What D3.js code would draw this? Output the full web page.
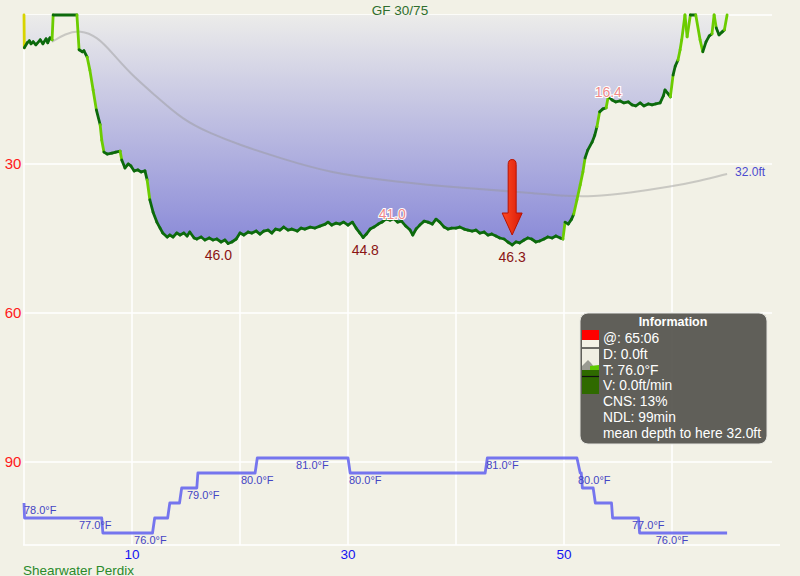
<!DOCTYPE html>
<html>
<head>
<meta charset="utf-8">
<script src="https://cdn.jsdelivr.net/npm/d3@7"></script>
<style>
  body { margin: 0; background: #f2f1e6; }
  svg { display: block; font-family: "Liberation Sans", Arial, sans-serif; }
</style>
</head>
<body>
<svg id="chart" width="800" height="576"></svg>
<script>
'use strict';

// dive profile: [minutes, depth ft]
const profile = [
  [0,0],[0.03,6.6],[0.3,5.6],[0.5,5.2],[0.65,5.8],[0.85,5.4],[1.1,6.0],[1.5,5.0],[1.75,5.8],[2.05,4.8],
  [2.2,5.6],[2.4,4.6],[2.6,5.0],[2.7,0],[4.9,0],[5.1,7.0],[5.4,7.4],[5.55,7.2],[5.85,8.5],[6.1,11.1],
  [6.4,15.1],[6.7,19.1],[7.05,22.1],[7.2,25.2],[7.4,27.6],[7.7,28.0],[8.15,27.8],[8.5,27.6],[8.9,27.4],[9.05,29.2],
  [9.35,30.8],[9.65,30.0],[9.9,30.4],[10.2,31.4],[10.55,31.2],[10.85,31.6],[11.2,31.4],[11.4,33.2],[11.65,37.2],[11.95,39.7],
  [12.3,41.7],[12.6,42.9],[12.85,43.9],[13.25,44.7],[13.5,44.3],[13.8,44.7],[14.15,43.9],[14.45,44.3],[14.8,43.9],[15.1,44.5],
  [15.35,43.7],[15.75,44.9],[16.0,45.1],[16.4,44.7],[16.75,45.3],[17.15,44.9],[17.5,45.3],[17.85,45.1],[18.25,45.7],[18.6,45.3],
  [18.9,46.0],[19.25,45.7],[19.65,45.1],[20.0,43.9],[20.35,44.3],[20.75,43.7],[21.1,43.9],[21.5,43.5],[21.85,44.1],[22.2,43.5],
  [22.6,43.3],[22.95,43.9],[23.3,43.1],[23.7,43.3],[24.05,42.7],[24.45,43.3],[24.8,43.1],[25.3,43.5],[25.65,42.9],[26.0,43.1],
  [26.5,42.7],[26.95,42.9],[27.4,42.5],[27.9,42.1],[28.15,41.7],[28.5,42.3],[28.9,41.9],[29.25,42.1],[29.6,41.7],[30.0,42.3],
  [30.4,41.7],[30.75,42.9],[31.1,43.9],[31.4,44.8],[31.7,44.1],[32.05,43.1],[32.4,42.7],[32.8,42.1],[33.15,41.7],[33.5,41.1],
  [33.9,41.3],[34.25,41.0],[34.6,41.7],[34.95,41.5],[35.35,42.5],[35.75,43.3],[36.0,44.3],[36.3,43.1],[36.65,42.3],[37.05,41.5],
  [37.4,41.7],[37.8,42.1],[38.15,41.1],[38.5,41.7],[38.9,42.7],[39.25,43.1],[39.6,42.9],[40.0,42.9],[40.35,42.7],[40.75,43.1],
  [41.1,43.3],[41.5,43.5],[41.85,43.3],[42.2,43.9],[42.6,43.7],[42.95,44.3],[43.3,44.1],[43.7,44.5],[44.05,44.9],[44.45,45.1],
  [44.8,45.7],[45.2,46.3],[45.55,45.7],[45.9,45.9],[46.3,45.3],[46.65,44.9],[47.0,45.1],[47.4,45.7],[47.75,45.5],[48.15,45.1],
  [48.5,44.7],[48.9,44.9],[49.25,44.5],[49.65,44.9],[49.9,45.1],[50.1,41.7],[50.4,42.1],[50.7,41.1],[50.9,40.1],[51.2,37.2],
  [51.5,34.2],[51.75,31.6],[51.95,28.8],[52.2,27.2],[52.6,25.6],[52.85,24.2],[53.05,22.5],[53.3,19.5],[53.6,18.9],[53.9,18.7],
  [54.1,16.4],[54.45,17.1],[54.8,17.5],[55.2,17.3],[55.55,17.7],[55.95,17.5],[56.3,18.1],[56.65,18.3],[57.05,17.7],[57.4,18.3],
  [57.8,17.9],[58.15,18.1],[58.5,17.9],[58.9,17.7],[59.2,16.3],[59.35,15.1],[59.65,15.9],[59.85,16.5],[60.1,12.1],[60.3,10.3],
  [60.55,9.1],[60.75,7.0],[60.9,5.0],[61.2,0],[61.4,4.4],[61.7,0],[62.2,0],[62.6,5.0],[62.85,7.4],[63.15,5.4],
  [63.45,4.2],[63.7,3.8],[63.9,0],[64.1,2.6],[64.35,4.0],[64.65,3.4],[64.85,3.0],[65.1,0]
];

// running mean depth: [minutes, ft]
const meanDepth = [
  [2.6,5.4],[3.8,3.8],[5.2,3.0],[6.8,4.4],[8.2,7.7],[9.8,11.7],[12.1,16.1],[14.7,21.1],[17.2,23.8],[20.0,26.2],
  [23.7,28.8],[28.3,31.8],[34.5,33.6],[40.6,34.8],[46.9,35.8],[49.6,36.4],[52.7,36.6],[56.1,35.8],[59.8,34.6],[62.6,33.4],
  [65.1,32.0]
];

// water temperature: [minutes, °F]
const temps = [
  [0,78],[0.05,77],[7.2,77],[7.3,76],[11.9,76],[12.1,77],[13.3,77],[13.5,78],[14.4,78],[14.6,79],
  [16.0,79],[16.1,80],[21.4,80],[21.6,81],[30.0,81],[30.2,80],[42.7,80],[42.9,81],[51.2,81],[51.5,80],
  [51.6,80],[51.7,79],[52.7,79],[52.9,78],[54.4,78],[54.5,77],[56.9,77],[57.0,76],[65.1,76]
];
const tempLabels = [
  [1.5,78],[6.6,77],[11.7,76],[16.6,79],[21.6,80],[26.7,81],[31.6,80],[44.3,81],[52.8,80],[57.8,77],[60.0,76]
];

const maxDepthLabels = [[18.0,46.0],[31.6,44.8],[45.2,46.3]];
const minDepthLabels = [[34.1,41.0],[54.1,16.4]];
const arrowMark = { time: 45.2, from: 29.5, to: 44.3 };

const timeGrid = [0, 10, 20, 30, 40, 50, 60];
const timeTicks = [10, 30, 50];
const depthGrid = [0, 30, 60, 90];
const depthTicks = [30, 60, 90];

const infoTitle = 'Information';
const infoLines = ['@: 65:06', 'D: 0.0ft', 'T: 76.0\u00b0F', 'V: 0.0ft/min', 'CNS: 13%', 'NDL: 99min', 'mean depth to here 32.0ft'];

const svg = d3.select('#chart');

const x = d3.scaleLinear().domain([0, 70]).range([24, 780]);
const y = d3.scaleLinear().domain([0, 90]).range([15, 462]);
const yT = d3.scaleLinear().domain([76, 81]).range([533, 458]);
const gridRight = 772;
const plotBottom = 545;

svg.append('rect').attr('width', 800).attr('height', 576).attr('fill', '#f2f1e6');

const defs = svg.append('defs');
const grad = defs.append('linearGradient')
  .attr('id', 'depthFill')
  .attr('gradientUnits', 'userSpaceOnUse')
  .attr('x1', 0).attr('x2', 0)
  .attr('y1', y(0)).attr('y2', y(46));
grad.append('stop').attr('offset', 0).attr('stop-color', '#ececea');
grad.append('stop').attr('offset', 1).attr('stop-color', '#8a8ad8');

const arrowGrad = defs.append('linearGradient')
  .attr('id', 'arrowFill')
  .attr('x1', 0).attr('x2', 1).attr('y1', 0).attr('y2', 0);
arrowGrad.append('stop').attr('offset', 0).attr('stop-color', '#ff4a22');
arrowGrad.append('stop').attr('offset', 1).attr('stop-color', '#d81a08');

// grid
const grid = svg.append('g').attr('stroke', '#ffffff').attr('stroke-width', 1.5);
grid.selectAll('line.v').data(timeGrid).enter().append('line')
  .attr('class', 'v')
  .attr('x1', d => x(d)).attr('x2', d => x(d))
  .attr('y1', y(0)).attr('y2', plotBottom);
grid.selectAll('line.h').data(depthGrid).enter().append('line')
  .attr('class', 'h')
  .attr('x1', x(0) - 1).attr('x2', gridRight)
  .attr('y1', d => y(d)).attr('y2', d => y(d));
grid.append('line')
  .attr('x1', x(0) - 1).attr('x2', x(70))
  .attr('y1', plotBottom).attr('y2', plotBottom);

// depth area
const area = d3.area()
  .x(d => x(d[0]))
  .y0(y(0))
  .y1(d => y(d[1]));
svg.append('path')
  .datum(profile)
  .attr('d', area)
  .attr('fill', 'url(#depthFill)');

// mean depth
const line = d3.line().x(d => x(d[0])).y(d => y(d[1])).curve(d3.curveBasis);
svg.append('path')
  .datum(meanDepth)
  .attr('d', line)
  .attr('fill', 'none')
  .attr('stroke', 'rgba(150,150,150,0.45)')
  .attr('stroke-width', 2);

svg.append('text')
  .attr('x', x(65.1) + 8).attr('y', y(32) + 2)
  .attr('font-size', 12)
  .attr('fill', '#4b4bd0')
  .text('32.0ft');

// profile coloured by vertical speed
const segs = d3.pairs(profile).map(([a, b]) => {
  const speed = Math.abs(b[1] - a[1]) / (b[0] - a[0]);
  return { a, b, speed };
});
const speedColour = s => s > 100 ? '#d8d400' : s > 9.5 ? '#6ccc00' : '#0c6a0c';
svg.append('g')
  .attr('stroke-width', 2.8)
  .attr('stroke-linecap', 'round')
  .selectAll('line')
  .data(segs).enter().append('line')
    .attr('x1', d => x(d.a[0])).attr('y1', d => y(d.a[1]))
    .attr('x2', d => x(d.b[0])).attr('y2', d => y(d.b[1]))
    .attr('stroke', d => speedColour(d.speed));

// depth labels
svg.selectAll('text.maxd').data(maxDepthLabels).enter().append('text')
  .attr('class', 'maxd')
  .attr('x', d => x(d[0])).attr('y', d => y(d[1]) + 17)
  .attr('text-anchor', 'middle')
  .attr('font-size', 14)
  .attr('fill', '#8a1414')
  .text(d => d[1].toFixed(1));

svg.selectAll('text.mind').data(minDepthLabels).enter().append('text')
  .attr('class', 'mind')
  .attr('x', d => x(d[0])).attr('y', d => y(d[1]) + 0.5)
  .attr('text-anchor', 'middle')
  .attr('font-size', 14)
  .attr('fill', '#f08a8a')
  .attr('stroke', '#ffffff')
  .attr('stroke-width', 2)
  .attr('paint-order', 'stroke')
  .text(d => d[1].toFixed(1));

// temperature
const tLine = d3.line().x(d => x(d[0])).y(d => yT(d[1]));
svg.append('path')
  .datum(temps)
  .attr('d', tLine)
  .attr('fill', 'none')
  .attr('stroke', 'rgba(95,95,238,0.85)')
  .attr('stroke-width', 2.8)
  .attr('stroke-linejoin', 'round');

svg.selectAll('text.temp').data(tempLabels).enter().append('text')
  .attr('class', 'temp')
  .attr('x', d => x(d[0])).attr('y', d => yT(d[1]) + 11)
  .attr('text-anchor', 'middle')
  .attr('font-size', 11)
  .attr('fill', '#4444c4')
  .text(d => d[1].toFixed(1) + '\u00b0F');

// axes labels
svg.selectAll('text.ytick').data(depthTicks).enter().append('text')
  .attr('class', 'ytick')
  .attr('x', 13).attr('y', d => y(d) + 5)
  .attr('text-anchor', 'middle')
  .attr('font-size', 15)
  .attr('fill', '#ff1a1a')
  .text(d => d);

svg.selectAll('text.xtick').data(timeTicks).enter().append('text')
  .attr('class', 'xtick')
  .attr('x', d => x(d)).attr('y', 559)
  .attr('text-anchor', 'middle')
  .attr('font-size', 13.5)
  .attr('fill', '#1414f0')
  .text(d => d);

svg.append('text')
  .attr('x', 400).attr('y', 15)
  .attr('text-anchor', 'middle')
  .attr('font-size', 13.5)
  .attr('fill', '#2e6e2e')
  .text('GF 30/75');

svg.append('text')
  .attr('x', 23).attr('y', 574.5)
  .attr('font-size', 13.5)
  .attr('fill', '#2a8a2a')
  .text('Shearwater Perdix');

// event arrow
const ax = x(arrowMark.time);
const aTop = y(arrowMark.from);
const aTip = y(arrowMark.to);
const headH = 22;
const arrowPath = d3.path();
arrowPath.moveTo(ax - 4, aTop + 3);
arrowPath.quadraticCurveTo(ax - 4, aTop - 2, ax, aTop - 2);
arrowPath.quadraticCurveTo(ax + 4, aTop - 2, ax + 4, aTop + 3);
arrowPath.lineTo(ax + 4, aTip - headH);
arrowPath.lineTo(ax + 10, aTip - headH);
arrowPath.lineTo(ax, aTip);
arrowPath.lineTo(ax - 10, aTip - headH);
arrowPath.lineTo(ax - 4, aTip - headH);
arrowPath.closePath();
svg.append('path')
  .attr('d', arrowPath.toString())
  .attr('fill', 'url(#arrowFill)')
  .attr('stroke', '#b81200')
  .attr('stroke-width', 1)
  .attr('stroke-linejoin', 'round');

// info box
const info = svg.append('g').attr('transform', 'translate(580,313)');
info.append('rect')
  .attr('width', 187).attr('height', 131)
  .attr('rx', 8)
  .attr('fill', 'rgba(85,84,78,0.93)')
  .attr('stroke', '#e6e6e0')
  .attr('stroke-width', 1);
info.append('text')
  .attr('x', 93).attr('y', 13)
  .attr('text-anchor', 'middle')
  .attr('font-size', 12.5)
  .attr('font-weight', 'bold')
  .attr('fill', '#ffffff')
  .text(infoTitle);
info.selectAll('text.line').data(infoLines).enter().append('text')
  .attr('class', 'line')
  .attr('x', 23).attr('y', (d, i) => 30 + i * 15.8)
  .attr('font-size', 13.8)
  .attr('fill', '#ffffff')
  .text(d => d);

// little gauge icon
const icon = info.append('g').attr('transform', 'translate(2,17)');
icon.append('rect').attr('width', 17).attr('height', 10).attr('fill', '#ff0000');
icon.append('rect').attr('y', 10).attr('width', 17).attr('height', 8).attr('fill', '#f4f2e6');
icon.append('rect').attr('y', 18).attr('width', 17).attr('height', 22).attr('fill', '#f0eee2');
icon.append('path').attr('d', 'M0,40 L0,36 L4,32 L6,30 L9,33 L12,37 L12,40 Z').attr('fill', '#9a9a92');
icon.append('path').attr('d', 'M8,40 L8,36 L17,35 L17,40 Z').attr('fill', '#5ec800');
icon.append('rect').attr('y', 40).attr('width', 17).attr('height', 6).attr('fill', '#2f6a00');
icon.append('rect').attr('y', 47).attr('width', 17).attr('height', 17).attr('fill', '#2f6a00');
icon.append('line').attr('x1', 0).attr('x2', 17).attr('y1', 18).attr('y2', 18).attr('stroke', '#111').attr('stroke-width', 1.2);
icon.append('line').attr('x1', 0).attr('x2', 17).attr('y1', 46.5).attr('y2', 46.5).attr('stroke', '#111').attr('stroke-width', 1.2);
</script>
</body>
</html>
